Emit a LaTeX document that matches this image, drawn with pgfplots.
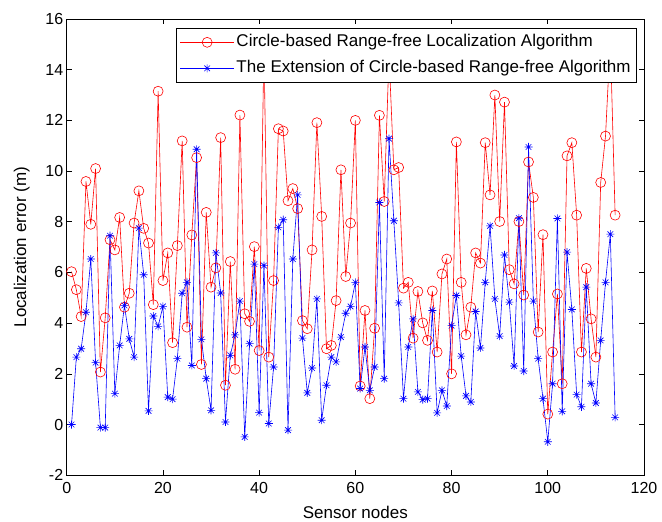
\documentclass[border=0pt]{standalone}
\usepackage{pgfplots}
\pgfplotsset{compat=1.18}
\usepackage{pgfplotstable}
\usepackage{fontspec}
\setmainfont{Liberation Sans}
\pgfdeclareplotmark{mstar}{%
  \pgfpathmoveto{\pgfqpoint{-\pgfplotmarksize}{0pt}}\pgfpathlineto{\pgfqpoint{\pgfplotmarksize}{0pt}}%
  \pgfpathmoveto{\pgfqpoint{0pt}{-\pgfplotmarksize}}\pgfpathlineto{\pgfqpoint{0pt}{\pgfplotmarksize}}%
  \pgfpathmoveto{\pgfqpoint{-0.7071\pgfplotmarksize}{-0.7071\pgfplotmarksize}}\pgfpathlineto{\pgfqpoint{0.7071\pgfplotmarksize}{0.7071\pgfplotmarksize}}%
  \pgfpathmoveto{\pgfqpoint{-0.7071\pgfplotmarksize}{0.7071\pgfplotmarksize}}\pgfpathlineto{\pgfqpoint{0.7071\pgfplotmarksize}{-0.7071\pgfplotmarksize}}%
  \pgfusepathqstroke}
\pgfplotstableread{
x y
1 6.03
2 5.32
3 4.26
4 9.59
5 7.9
6 10.1
7 2.07
8 4.21
9 7.29
10 6.89
11 8.17
12 4.63
13 5.18
14 7.95
15 9.22
16 7.74
17 7.16
18 4.73
19 13.15
20 5.68
21 6.77
22 3.23
23 7.06
24 11.19
25 3.84
26 7.48
27 10.53
28 2.37
29 8.37
30 5.42
31 6.18
32 11.32
33 1.55
34 6.43
35 2.18
36 12.21
37 4.37
38 4.07
39 7.02
40 2.92
41 15.0
42 2.66
43 5.68
44 11.67
45 11.58
46 8.83
47 9.31
48 8.52
49 4.1
50 3.78
51 6.89
52 11.91
53 8.21
54 2.99
55 3.12
56 4.89
57 10.05
58 5.84
59 7.95
60 12.0
61 1.52
62 4.5
63 1.02
64 3.8
65 12.2
66 8.8
67 14.6
68 10.05
69 10.14
70 5.38
71 5.61
72 3.41
73 5.25
74 4.01
75 3.32
76 5.27
77 2.86
78 5.94
79 6.53
80 2.0
81 11.15
82 5.61
83 3.54
84 4.63
85 6.77
86 6.37
87 11.12
88 9.06
89 13.0
90 8.01
91 12.72
92 6.11
93 5.55
94 8.01
95 5.11
96 10.36
97 8.96
98 3.65
99 7.49
100 0.41
101 2.86
102 5.15
103 1.61
104 10.6
105 11.12
106 8.26
107 2.86
108 6.16
109 4.17
110 2.66
111 9.55
112 11.38
113 15.2
114 8.26
}\redtab
\pgfplotstableread{
x y
1 0.0
2 2.66
3 2.99
4 4.43
5 6.53
6 2.44
7 -0.12
8 -0.12
9 7.45
10 1.22
11 3.12
12 4.7
13 3.38
14 2.66
15 7.75
16 5.91
17 0.54
18 4.28
19 3.87
20 4.66
21 1.08
22 1.0
23 2.6
24 5.18
25 5.61
26 2.33
27 10.86
28 3.36
29 1.81
30 0.56
31 6.77
32 5.19
33 0.1
34 2.73
35 3.54
36 4.87
37 -0.49
38 3.19
39 6.33
40 0.47
41 6.27
42 0.04
43 2.27
44 7.78
45 8.08
46 -0.22
47 6.53
48 9.06
49 3.41
50 1.25
51 2.23
52 4.96
53 0.17
54 1.55
55 2.66
56 2.47
57 3.45
58 4.39
59 4.66
60 5.61
61 1.42
62 3.06
63 1.35
64 2.27
65 8.76
66 1.81
67 11.28
68 8.04
69 4.8
70 1.02
71 3.06
72 4.17
73 1.29
74 0.98
75 1.02
76 4.5
77 0.46
78 1.35
79 0.73
80 3.9
81 5.09
82 2.7
83 1.13
84 0.89
85 4.46
86 3.02
87 5.61
88 7.84
89 4.96
90 3.49
91 6.69
92 4.83
93 2.31
94 8.14
95 2.11
96 10.95
97 4.87
98 2.6
99 1.02
100 -0.68
101 1.61
102 8.13
103 0.52
104 6.8
105 4.54
106 1.18
107 0.7
108 5.42
109 1.61
110 0.85
111 3.32
112 5.61
113 7.51
114 0.28
}\bluetab
\begin{document}
\begin{tikzpicture}
\begin{axis}[
  scale only axis,
  width=577bp, height=456bp,
  xmin=0, xmax=120, ymin=-2, ymax=16,
  xtick={0,20,...,120}, ytick={-2,0,...,16},
  tick align=inside, major tick length=5bp,
  tick style={black, line width=0.6bp},
  axis line style={black, line width=0.6bp},
  tick label style={font=\fontsize{16bp}{18bp}\selectfont},
  xticklabel style={yshift=-4bp},
  /pgf/number format/assume math mode=true,
  xlabel={Sensor nodes},
  ylabel={Localization error (m)},
  every axis x label/.style={at={(axis description cs:0.5,0)}, anchor=center, yshift=-37bp, font=\fontsize{17bp}{19bp}\selectfont},
  every axis y label/.style={at={(axis description cs:0,0.5)}, rotate=90, anchor=center, yshift=45bp, font=\fontsize{17bp}{19bp}\selectfont},
  legend cell align=left,
  legend style={at={(1,1)}, anchor=north east, xshift=-7bp, yshift=-9bp,
    draw=black, line width=0.6bp, fill=white, inner sep=4bp, row sep=6bp,
    nodes={inner sep=2bp, text height=12.5bp, text depth=3.5bp},
    font=\fontsize{17bp}{19bp}\selectfont},
  legend image code/.code={\draw[mark repeat=2,mark phase=2] plot coordinates {(0bp,0bp)(27bp,0bp)(54bp,0bp)};},
]
\addplot[red, line width=0.6bp, mark=o, mark size=5bp, mark options={solid, line width=0.6bp}] table[x=x,y=y] {\redtab};
\addlegendentry{Circle-based Range-free Localization Algorithm}
\addplot[blue, line width=0.6bp, mark=mstar, mark size=4bp, mark options={solid, line width=0.6bp}] table[x=x,y=y] {\bluetab};
\addlegendentry{The Extension of Circle-based Range-free Algorithm}
\end{axis}
\path (current axis.south west) +(-66.7bp,-46bp) (current axis.north east) +(18bp,19bp);
\end{tikzpicture}
\end{document}
